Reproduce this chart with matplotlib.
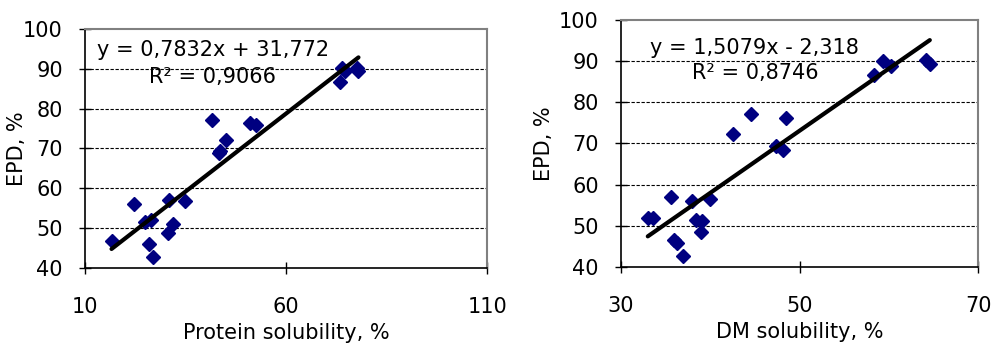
import numpy as np
import matplotlib.pyplot as plt

plt.rcParams['font.family'] = ['DejaVu Sans']

# данные: растворимость белка / сухого вещества и EPD
protein_sol = [16.6, 22.3, 24.9, 26.4, 25.9, 27.0, 30.9, 30.7, 32.0, 34.9,
               41.7, 43.2, 43.6, 45.1, 51.0, 52.5, 73.3, 73.9, 74.7, 77.6, 78.0]
epd_protein = [46.8, 56.0, 51.6, 52.0, 45.9, 42.8, 57.1, 48.7, 51.0, 56.8,
               77.1, 68.9, 69.3, 72.2, 76.3, 76.0, 86.6, 90.2, 89.5, 90.3, 89.5]

dm_sol = [33.0, 33.6, 35.6, 35.9, 36.3, 37.0, 37.9, 38.4, 39.1, 39.0, 40.0,
          42.5, 44.6, 47.4, 48.1, 48.5, 58.4, 59.4, 60.3, 64.2, 64.6]
epd_dm = [51.9, 51.9, 56.9, 46.6, 45.8, 42.7, 56.1, 51.5, 51.1, 48.6, 56.6,
          72.3, 77.1, 69.4, 68.3, 76.2, 86.7, 90.1, 88.9, 90.3, 89.3]

# коэффициенты линий тренда (с графика)
fit_protein = (0.7832, 31.772)
fit_dm = (1.5079, -2.318)
eq_protein = ['y = 0,7832x + 31,772', 'R² = 0,9066']
eq_dm = ['y = 1,5079x - 2,318', 'R² = 0,8746']

x_ticks_protein = [10, 60, 110]
x_ticks_dm = [30, 50, 70]
y_ticks = [40, 50, 60, 70, 80, 90, 100]

fig = plt.figure(figsize=(9.93, 3.51), dpi=100)
ax1 = fig.add_axes([0.0856, 0.2365, 0.405, 0.681])
ax2 = fig.add_axes([0.6254, 0.2393, 0.3595, 0.704])


def draw(ax, x, y, fit, eq, xticks, xlabel, eq_pos, ylab_x):
    ax.set_xlim(xticks[0], xticks[-1])
    ax.set_ylim(40, 100)
    for g in y_ticks[1:-1]:
        ax.axhline(g, color='black', lw=0.8, ls=(0, (3, 1.5)), zorder=1)
    ax.plot(x, y, 'D', color='#000080', ms=7, mec='#000080', zorder=3, clip_on=False)
    xs = np.array([min(x), max(x)])
    ax.plot(xs, fit[0] * xs + fit[1], color='black', lw=3, solid_capstyle='round', zorder=4)
    ax.set_xticks(xticks)
    ax.set_yticks(y_ticks)
    ax.tick_params(direction='inout', length=8, width=1, labelsize=15)
    ax.tick_params(axis='y', pad=12)
    ax.tick_params(axis='x', pad=17)
    for s in ['left', 'bottom']:
        ax.spines[s].set_color('black')
        ax.spines[s].set_linewidth(1.2)
    for s in ['top', 'right']:
        ax.spines[s].set_color('#808080')
        ax.spines[s].set_linewidth(1.5)
    ax.set_xlabel(xlabel, fontsize=15, labelpad=4)
    ax.set_ylabel('EPD, %', fontsize=15)
    ax.yaxis.set_label_coords(ylab_x, 0.5)
    ax.text(eq_pos[0], eq_pos[1], eq[0], transform=ax.transAxes, ha='center', va='center', fontsize=15)
    ax.text(eq_pos[0], eq_pos[2], eq[1], transform=ax.transAxes, ha='center', va='center', fontsize=15)


draw(ax1, protein_sol, epd_protein, fit_protein, eq_protein, x_ticks_protein,
     'Protein solubility, %', (0.318, 0.912, 0.80), -0.144)
draw(ax2, dm_sol, epd_dm, fit_dm, eq_dm, x_ticks_dm, 'DM solubility, %',
     (0.375, 0.887, 0.785), -0.188)

plt.savefig('out.png', dpi=100)
